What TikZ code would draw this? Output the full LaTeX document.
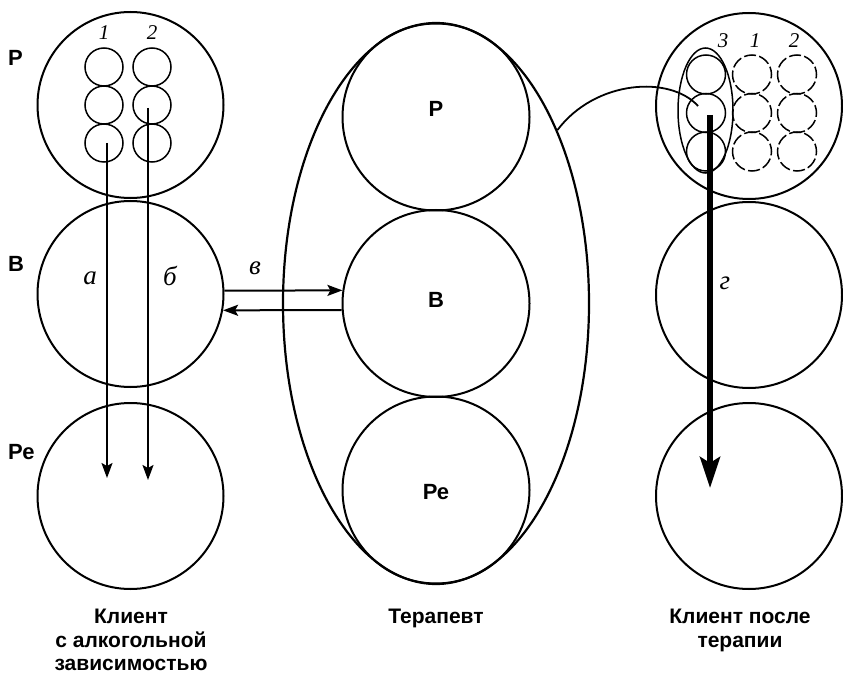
\documentclass[tikz,border=0pt]{standalone}
\usepackage{fontspec}
\setmainfont{Liberation Sans}
\newfontfamily\serifit{Liberation Serif}
\usetikzlibrary{shapes.geometric,arrows.meta}

\begin{document}
\begin{tikzpicture}[x=1pt,y=-1pt,
  big/.style={circle,draw,line width=2pt,minimum size=186pt,inner sep=0pt},
  small/.style={circle,draw,line width=1.5pt,minimum size=38pt,inner sep=0pt},
  dsmall/.style={small,minimum size=39pt,dash pattern=on 12pt off 3.3pt,dash phase=4pt},
  side/.style={anchor=west,inner sep=0pt,font=\fontsize{22}{22}\selectfont\bfseries},
  mid/.style={inner sep=0pt,font=\fontsize{22}{22}\selectfont\bfseries},
  caption/.style={align=center,anchor=north,inner sep=0pt,font=\fontsize{21}{23.5}\selectfont\bfseries},
  num/.style={anchor=base,inner sep=0pt,font=\fontsize{21}{21}\serifit\itshape},
  lett/.style={anchor=base,inner sep=0pt,font=\fontsize{27}{27}\serifit\itshape},
  arr/.style={line width=2pt,-{Stealth[length=15pt,width=11pt,inset=3pt]}},
  thickarr/.style={line width=5.5pt,-{Stealth[length=31pt,width=20pt,inset=6pt]}},
]
\useasboundingbox (0,0) rectangle (843,676);

% ---- client with alcohol dependence ----
\node[big] (pL) at (130.5,105) {};
\node[big] (bL) at (130.5,294) {};
\node[big] (rL) at (130.5,496) {};
\foreach \c/\x in {1/104,2/152}{
  \foreach \r/\y in {1/67,2/105,3/143}{
    \node[small] (sL\c\r) at (\x,\y) {};
  }
}
\node[num] (nL1) at (104,40) {1};
\node[num] (nL2) at (152,40) {2};
\node[side] (lP) at (8,58) {Р};
\node[side] (lB) at (8,264) {В};
\node[side] (lR) at (8,452) {Ре};
\node[lett] (la) at (90,285) {а};
\node[lett] (lb) at (170,286) {б};
\coordinate (a1s) at (107,143);
\coordinate (a1e) at (107,478);
\coordinate (a2s) at (148,108);
\coordinate (a2e) at (148,480);
\draw[arr] (a1s) -- (a1e);
\draw[arr] (a2s) -- (a2e);

% ---- therapist ----
\node[ellipse,draw,line width=2.2pt,minimum width=306pt,minimum height=561pt,inner sep=0pt] (ell) at (436,303.5) {};
\node[big,minimum size=187pt] (pM) at (436,117) {};
\node[big,minimum size=187pt] (bM) at (436,303.5) {};
\node[big,minimum size=187pt] (rM) at (436,490) {};
\node[mid] (tP) at (436,109) {Р};
\node[mid] (tB) at (436,300) {В};
\node[mid] (tR) at (436,492) {Ре};

% transactions between the two Adult states
\draw[arr] (bL.2) -- (bM.172.3);
\draw[arr] (bM.184.6) -- (bL.-10.5);
\node[lett] (lv) at (255,275) {в};

% ---- client after therapy ----
\node[big] (pR) at (749,106) {};
\node[big] (bR) at (749,295) {};
\node[big] (rR) at (749,496) {};
\foreach \r/\y in {1/74.5,2/113,3/151.5}{
  \node[small,minimum size=39pt] (sR3\r) at (706,\y) {};
  \node[dsmall] (sR1\r) at (752,\y) {};
  \node[dsmall] (sR2\r) at (797,\y) {};
}
\node[ellipse,draw,line width=1.5pt,minimum width=55pt,minimum height=125pt,inner sep=0pt] (grp) at (705.5,110.5) {};
\node[num] (nR3) at (723,48) {3};
\node[num] (nR1) at (755,48) {1};
\node[num] (nR2) at (794,48) {2};
\node[lett] (lg) at (725,290) {г};

% the new Parent state taken over from the therapist
\coordinate (cEnd) at (698,106);
\draw[line width=1.8pt] (ell.55.5) .. controls (595,80) and (670,75) .. (cEnd);

\coordinate (g0) at (710,115);
\coordinate (g1) at (710,488);
\draw[thickarr] (g0) -- (g1);

% ---- captions ----
\node[caption] (cL) at (131,609) {Клиент\\с алкогольной\\зависимостью};
\node[caption] (cM) at (436,609) {Терапевт};
\node[caption] (cR) at (740,609) {Клиент после\\терапии};
\end{tikzpicture}
\end{document}
